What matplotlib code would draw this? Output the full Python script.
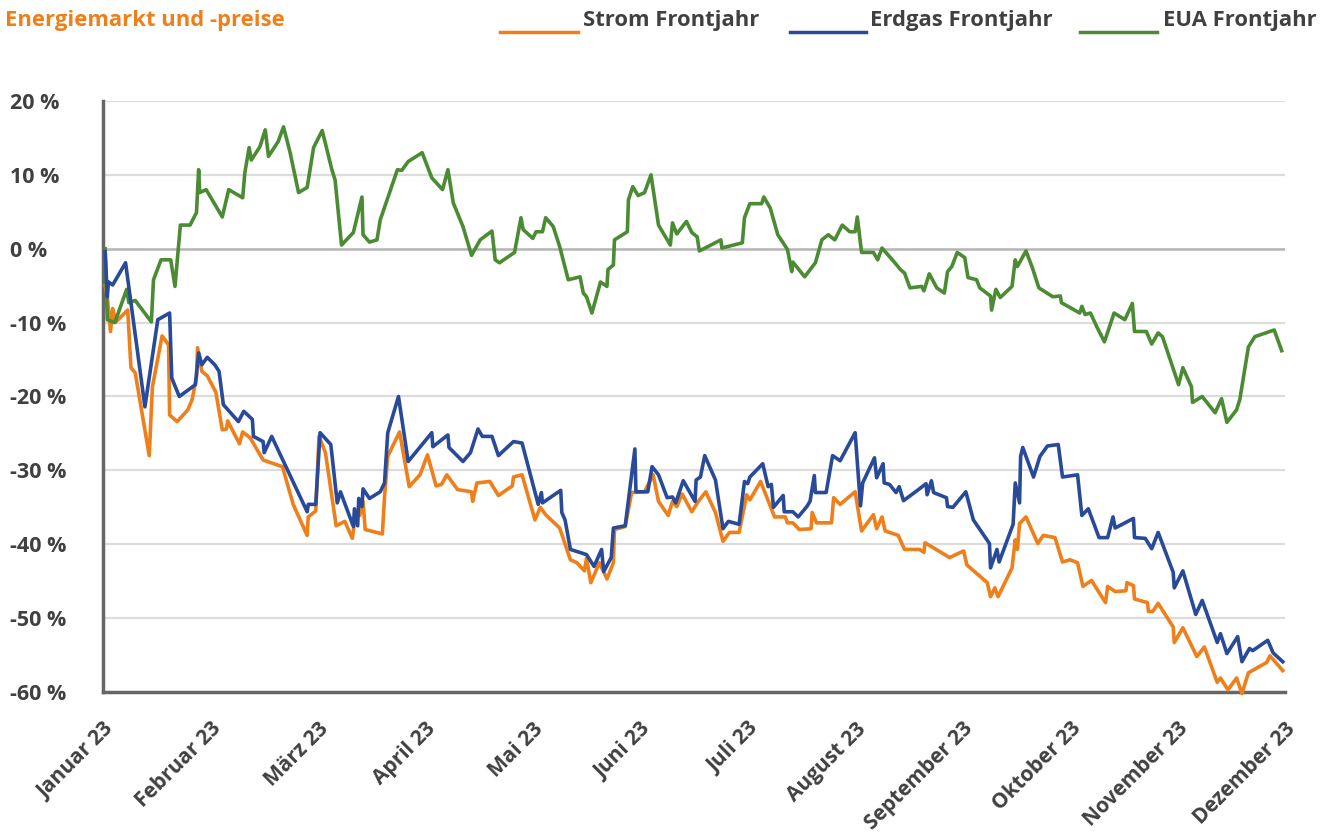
import matplotlib
matplotlib.use("Agg")
import matplotlib.pyplot as plt
from matplotlib.lines import Line2D

# x positions are in months since start of January 2023 (0 = Januar 23, 11 = Dezember 23)
month_labels = ["Januar 23", "Februar 23", "März 23", "April 23", "Mai 23", "Juni 23",
                "Juli 23", "August 23", "September 23", "Oktober 23", "November 23", "Dezember 23"]

eua_x = [0.02, 0.04, 0.11, 0.22, 0.24, 0.30, 0.45, 0.47, 0.54, 0.63, 0.67, 0.72, 0.81, 0.87, 0.89,
         0.90, 0.96, 1.11, 1.17, 1.30, 1.32, 1.36, 1.38, 1.46, 1.51, 1.54, 1.63, 1.68, 1.74, 1.82,
         1.90, 1.96, 2.04, 2.13, 2.16, 2.22, 2.33, 2.41, 2.42, 2.48, 2.55, 2.58, 2.74, 2.78, 2.84,
         2.97, 3.06, 3.16, 3.21, 3.26, 3.35, 3.43, 3.51, 3.62, 3.65, 3.69, 3.83, 3.89, 3.91, 4.00,
         4.03, 4.09, 4.12, 4.19, 4.25, 4.33, 4.44, 4.47, 4.50, 4.55, 4.63, 4.69, 4.70, 4.75, 4.76,
         4.88, 4.89, 4.93, 4.98, 5.04, 5.10, 5.17, 5.28, 5.30, 5.34, 5.43, 5.48, 5.53, 5.55, 5.75,
         5.76, 5.95, 5.97, 6.02, 6.13, 6.15, 6.21, 6.28, 6.37, 6.41, 6.42, 6.53, 6.63, 6.69, 6.75,
         6.81, 6.88, 6.95, 7.00, 7.02, 7.06, 7.17, 7.21, 7.25, 7.37, 7.42, 7.46, 7.51, 7.62, 7.64,
         7.69, 7.76, 7.83, 7.86, 7.90, 7.95, 8.02, 8.05, 8.13, 8.16, 8.26, 8.27, 8.31, 8.35, 8.46,
         8.49, 8.51, 8.59, 8.65, 8.71, 8.84, 8.91, 8.92, 9.09, 9.11, 9.14, 9.19, 9.25, 9.32, 9.41,
         9.51, 9.58, 9.60, 9.71, 9.76, 9.82, 9.86, 10.01, 10.05, 10.13, 10.14, 10.23, 10.35, 10.41,
         10.46, 10.55, 10.58, 10.66, 10.72, 10.90, 10.97]
eua_y = [0, -9.6, -10, -5.5, -7.3, -7, -9.9, -4.2, -1.5, -1.5, -5.1, 3.2, 3.2, 4.9, 10.7,
         7.6, 8, 4.3, 8, 6.9, 10.3, 13.7, 12, 13.8, 16.1, 12.5, 14.5, 16.5, 13.1, 7.6,
         8.3, 13.7, 16, 10.7, 9.3, 0.5, 2.2, 7, 1.9, 0.9, 1.2, 3.9, 10.7, 10.6, 11.8,
         13, 9.6, 8, 10.7, 6.2, 3, -0.9, 1.2, 2.4, -1.5, -1.9, -0.5, 4.2, 2.6, 1.4,
         2.3, 2.3, 4.2, 3, 0.3, -4.2, -3.8, -6, -6.5, -8.7, -4.5, -5.1, -2.8, -2.2, 1.2,
         2.3, 6.6, 8.4, 7.2, 7.6, 10, 3.2, 0.5, 3.5, 2, 3.7, 2.2, 1.6, -0.3, 1.2,
         0.1, 0.8, 4.2, 6.1, 6.1, 7, 5.5, 1.9, -0.1, -3.1, -1.8, -3.8, -1.9, 1.2, 1.9,
         1.2, 3.2, 2.3, 2.3, 4.3, -0.5, -0.5, -1.5, 0.1, -1.9, -2.8, -3.3, -5.3, -5.1, -5.7,
         -3.4, -5.3, -6, -3.1, -2.4, -0.5, -1.2, -3.9, -4.2, -5.3, -6.4, -8.3, -5.5, -6.6, -5.1,
         -1.5, -2.4, -0.3, -2.6, -5.3, -6.5, -6.4, -7.3, -8.7, -7.8, -8.9, -8.7, -10.6, -12.6, -8.7,
         -9.6, -7.4, -11.2, -11.2, -12.9, -11.4, -11.9, -18.4, -16.1, -18.7, -20.8, -20, -22.2, -20.3,
         -23.5, -21.8, -20.4, -13.3, -11.9, -11, -13.8]

gas_x = [0.02, 0.04, 0.05, 0.09, 0.21, 0.39, 0.51, 0.62, 0.64, 0.71, 0.86, 0.89, 0.92, 0.97, 1.04,
         1.08, 1.12, 1.26, 1.31, 1.39, 1.40, 1.49, 1.50, 1.57, 1.90, 1.91, 1.98, 2.02, 2.12, 2.18,
         2.21, 2.33, 2.34, 2.37, 2.38, 2.41, 2.42, 2.48, 2.58, 2.62, 2.65, 2.75, 2.84, 3.06, 3.07,
         3.21, 3.22, 3.35, 3.42, 3.49, 3.53, 3.62, 3.68, 3.82, 3.90, 4.05, 4.08, 4.09, 4.26, 4.27,
         4.30, 4.35, 4.50, 4.57, 4.64, 4.66, 4.73, 4.75, 4.86, 4.95, 4.96, 5.07, 5.11, 5.17, 5.25,
         5.30, 5.33, 5.40, 5.51, 5.52, 5.56, 5.60, 5.70, 5.77, 5.82, 5.92, 5.97, 6.00, 6.02, 6.14,
         6.19, 6.22, 6.24, 6.33, 6.34, 6.42, 6.47, 6.55, 6.58, 6.62, 6.63, 6.73, 6.79, 6.86, 7.00,
         7.05, 7.07, 7.18, 7.20, 7.26, 7.27, 7.32, 7.38, 7.41, 7.45, 7.58, 7.66, 7.67, 7.71, 7.73,
         7.85, 7.86, 7.91, 8.03, 8.10, 8.25, 8.26, 8.32, 8.34, 8.47, 8.49, 8.53, 8.54, 8.56, 8.66,
         8.72, 8.79, 8.89, 8.93, 9.07, 9.11, 9.17, 9.27, 9.35, 9.40, 9.42, 9.59, 9.60, 9.70, 9.76,
         9.82, 9.96, 9.97, 10.05, 10.17, 10.23, 10.37, 10.40, 10.46, 10.56, 10.60, 10.67, 10.70,
         10.84, 10.89, 10.98]
gas_y = [-0.4, -6.5, -4.5, -4.9, -1.9, -21.4, -9.6, -8.7, -17.5, -20, -18.4, -14.1, -15.7, -14.7, -15.7,
         -16.6, -21.1, -23.4, -22, -23.1, -25.4, -26.1, -27.6, -25.4, -35.6, -34.6, -34.6, -24.9, -26.5, -34.4,
         -32.9, -37.6, -35.2, -37.5, -33.8, -34.9, -32.5, -33.8, -32.9, -31.7, -24.9, -20, -28.8, -24.9, -26.8,
         -25.2, -26.9, -28.8, -27.6, -24.4, -25.4, -25.4, -28, -26.1, -26.3, -34.6, -33, -34.4, -32.7, -35.7,
         -36.7, -40.7, -41.4, -43, -40.7, -43.7, -41.8, -37.8, -37.5, -27.1, -32.9, -32.9, -29.5, -30.6, -33.7,
         -33.6, -34.4, -31.4, -34.2, -31.3, -30.9, -28, -31.3, -37.9, -36.9, -37.3, -31.5, -31.8, -30.9, -29.1,
         -32.2, -31.9, -35, -33.4, -35.6, -35.6, -36.3, -34.9, -34.2, -30.7, -33, -33, -28, -28.7, -24.9,
         -34.8, -31.7, -28.3, -31, -29.1, -31.7, -31.9, -33, -32.2, -34.1, -32.7, -31.8, -33.3, -31.4, -33,
         -33.7, -34.9, -35, -32.9, -36.7, -39.9, -43.2, -40.7, -42.4, -37.3, -31.7, -34.4, -28.1, -26.9, -30.9,
         -28.1, -26.7, -26.5, -30.9, -30.6, -36.1, -35.2, -39.1, -39.1, -36.3, -37.8, -36.5, -39.1, -39.2, -40.6,
         -38.4, -43.8, -45.9, -43.6, -49.5, -47.6, -53.3, -52.1, -54.8, -52.5, -55.9, -54.1, -54.4,
         -53, -54.7, -55.9]

power_x = [0.02, 0.04, 0.07, 0.09, 0.12, 0.23, 0.26, 0.30, 0.43, 0.46, 0.55, 0.61, 0.62, 0.69, 0.79,
           0.83, 0.87, 0.88, 0.92, 0.97, 1.05, 1.11, 1.15, 1.16, 1.27, 1.30, 1.37, 1.49, 1.67, 1.77,
           1.90, 1.91, 1.98, 2.01, 2.07, 2.17, 2.25, 2.32, 2.35, 2.39, 2.42, 2.44, 2.60, 2.61, 2.62,
           2.65, 2.76, 2.85, 2.95, 3.02, 3.10, 3.15, 3.20, 3.30, 3.43, 3.44, 3.48, 3.60, 3.68, 3.81,
           3.82, 3.90, 4.02, 4.07, 4.12, 4.25, 4.35, 4.41, 4.48, 4.50, 4.54, 4.62, 4.69, 4.75, 4.76,
           4.86, 4.92, 5.04, 5.12, 5.17, 5.26, 5.30, 5.34, 5.39, 5.48, 5.54, 5.61, 5.70, 5.77, 5.83,
           5.92, 5.99, 6.02, 6.12, 6.25, 6.35, 6.37, 6.42, 6.48, 6.59, 6.60, 6.64, 6.78, 6.80, 6.86,
           7.00, 7.06, 7.17, 7.20, 7.25, 7.28, 7.40, 7.46, 7.60, 7.64, 7.65, 7.88, 8.01, 8.04, 8.23,
           8.26, 8.30, 8.33, 8.46, 8.49, 8.51, 8.53, 8.59, 8.70, 8.75, 8.86, 8.93, 9.00, 9.07, 9.12,
           9.20, 9.33, 9.35, 9.42, 9.52, 9.53, 9.59, 9.60, 9.72, 9.73, 9.77, 9.82, 9.96, 9.97, 10.05,
           10.18, 10.25, 10.37, 10.40, 10.47, 10.55, 10.60, 10.66, 10.83, 10.86, 10.98]
power_y = [-5, -6.5, -11.2, -8.1, -9.9, -8.3, -16.1, -16.8, -28, -18.7, -11.8, -13, -22.5, -23.4, -21.8,
           -20.4, -17.3, -13.4, -16.6, -17.2, -19.4, -24.5, -24.4, -23.3, -26.4, -24.8, -25.6, -28.6, -29.5, -34.6,
           -38.8, -36.3, -35.5, -25.4, -27.6, -37.5, -36.9, -39.2, -36, -36.1, -34.2, -38, -38.6, -36, -33.6,
           -28.1, -24.8, -32.2, -30.6, -27.9, -32.1, -31.9, -30.6, -32.6, -32.9, -34.2, -31.7, -31.5, -33.4, -32.1,
           -30.9, -30.6, -36.7, -35, -36, -37.8, -42.1, -42.5, -43.6, -41.9, -45.2, -42.5, -44.7, -42.5, -38,
           -37.6, -33, -32.9, -30.6, -34.2, -36.1, -34.2, -34.9, -33.2, -35.6, -34.2, -32.9, -35.7, -39.6, -38.4,
           -38.4, -33.3, -34, -31.5, -36.3, -36.3, -37.1, -37.1, -38, -37.9, -35.7, -37.1, -37.1, -33.7, -34.6,
           -32.9, -38.2, -36, -37.9, -36.3, -38.2, -38.8, -40.7, -40.7, -41.1, -39.8, -41.8, -40.9, -42.8, -45.2,
           -47.1, -45.9, -47.1, -43.2, -39.4, -40.7, -37.2, -36.3, -39.9, -38.8, -39.1, -42.4, -42.1, -42.5, -45.7,
           -44.9, -47.9, -45.7, -46.4, -46.3, -45.2, -45.6, -47.4, -47.9, -49.1, -49.1, -48, -51.2, -53.3, -51.3,
           -55.2, -53.9, -58.7, -58.1, -59.7, -58.1, -60.2, -57.4, -56, -55.1, -57.1]

series_names = ["Strom Frontjahr", "Erdgas Frontjahr", "EUA Frontjahr"]
y_ticks = [20, 10, 0, -10, -20, -30, -40, -50, -60]

ORANGE = "#ef7f1a"
BLUE = "#284a98"
GREEN = "#4a8b33"
TXT = "#404040"

plt.rcParams['font.family'] = ['Open Sans', 'DejaVu Sans']

fig = plt.figure(figsize=(13.24, 8.38), dpi=100)
ax = fig.add_axes([0.0778, 0.1742, 0.8927, 0.7053])

ax.plot(power_x, power_y, color=ORANGE, lw=2.6, clip_on=False, zorder=3)
ax.plot(gas_x, gas_y, color=BLUE, lw=2.6, clip_on=False, zorder=4)
ax.plot(eua_x, eua_y, color=GREEN, lw=2.6, clip_on=False, zorder=3)

ax.set_xlim(0, 11)
ax.set_ylim(-60, 20)
ax.set_yticks(y_ticks)
ax.set_yticklabels([f"{v} %" for v in y_ticks], fontsize=15.5, fontweight='bold', color=TXT)
for v in y_ticks:
    if v == 0:
        ax.axhline(v, color="#b4b4b4", lw=1.8, zorder=1)
    elif v != -60:
        ax.axhline(v, color="#dcdcdc", lw=1.6, zorder=1)

ax.set_xticks(range(len(month_labels)))
ax.set_xticklabels(month_labels, rotation=45, ha='right', va='top', rotation_mode='anchor',
                   fontsize=15, fontweight='bold', color=TXT)
ax.tick_params(axis='both', length=0)
ax.tick_params(axis='x', pad=19)
ax.tick_params(axis='y', pad=67)
for lbl in ax.get_yticklabels():
    lbl.set_horizontalalignment('left')

for s in ['top', 'right']:
    ax.spines[s].set_visible(False)
for s in ['left', 'bottom']:
    ax.spines[s].set_color("#666666")
    ax.spines[s].set_linewidth(2.5)

fig.text(0.004, 0.975, "Energiemarkt und -preise", color=ORANGE, fontsize=15.8,
         fontweight='bold', va='center', ha='left')

# legend drawn along the top, Excel style
legend_pos = [(0.3776, 0.4366, 0.4403), (0.5967, 0.6541, 0.6571), (0.8157, 0.8739, 0.8784)]
for (x0, x1, xt), name, col in zip(legend_pos, series_names, [ORANGE, BLUE, GREEN]):
    fig.add_artist(Line2D([x0, x1], [0.962, 0.962], color=col, lw=2.5, transform=fig.transFigure))
    fig.text(xt, 0.975, name, color=TXT, fontsize=15.8, fontweight='bold', va='center', ha='left')

fig.savefig("out.png", dpi=100)
